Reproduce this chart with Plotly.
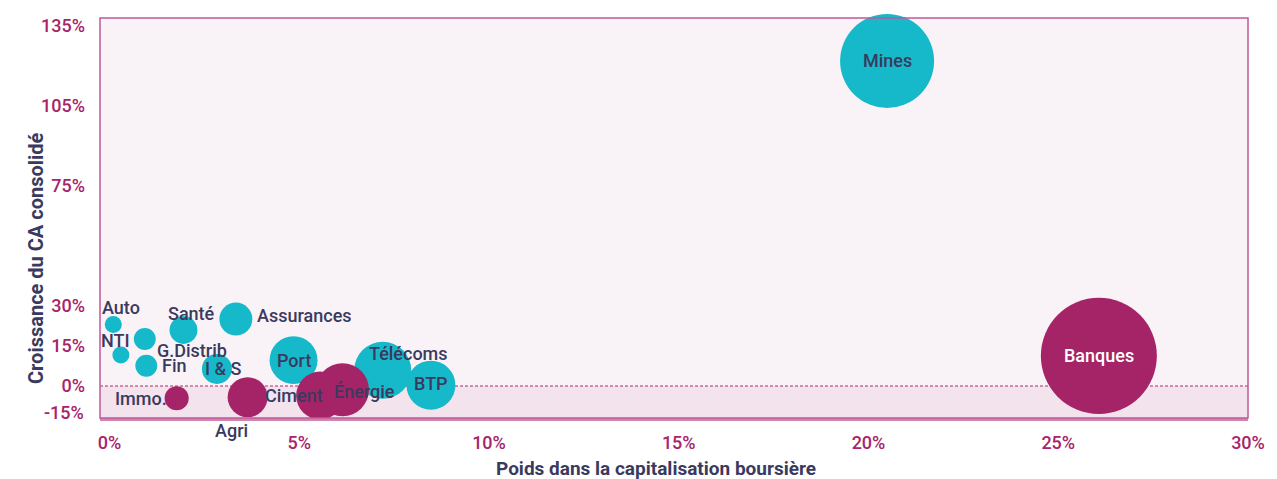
import plotly.graph_objects as go

# Secteurs : poids dans la capitalisation (%) et croissance du CA consolidé (%)
secteurs = ['Auto', 'NTI', 'G.Distrib', 'Fin', 'Santé', 'Immo.', 'I & S', 'Assurances',
            'Agri', 'Port', 'Ciment', 'Énergie', 'Télécoms', 'BTP', 'Mines', 'Banques']
poids = [0.10, 0.30, 0.93, 0.97, 1.95, 1.77, 2.83, 3.33,
         3.64, 4.85, 5.55, 6.14, 7.20, 8.47, 20.49, 26.07]
croissance = [23.1, 11.6, 17.6, 7.6, 21.0, -4.6, 6.4, 25.1,
              -4.2, 9.7, -3.6, -1.4, 5.9, 0.3, 121.9, 11.3]
taille_bulle = [2.9, 2.9, 4.8, 4.8, 7.8, 5.8, 9.0, 10.9,
                16.0, 23.0, 23.0, 28.1, 32.5, 24.0, 88.4, 134.6]
groupe = ['A', 'A', 'A', 'A', 'A', 'B', 'A', 'A',
          'B', 'A', 'B', 'B', 'A', 'A', 'A', 'B']

x_ticks = [0, 5, 10, 15, 20, 25, 30]
y_ticks = [0, 15, 30, 75, 105, 135]
X_RANGE = [-0.25, 30]
Y_RANGE = [-12, 138]

CYAN = '#16b9c9'
MAGENTA = '#a52468'
NAVY = '#3a3a5e'
TICK = '#a8236b'
FONT = 'Roboto, "Open Sans", sans-serif'

# decalage des etiquettes (px) par rapport au centre des bulles
label_dx = [8, -5, 47, 28, 8, -36, 7, 69, -16, 0, -26, 22, 26, 0, 0, 0]
label_dy = [17, 15, -11, 0, 17, 0, 0, 4, -33, 0, 0, -2, 17, 2, 0, 0]

fig = go.Figure()

for g, col in [('A', CYAN), ('B', MAGENTA)]:
    idx = [i for i, v in enumerate(groupe) if v == g]
    fig.add_trace(go.Scatter(
        x=[poids[i] for i in idx],
        y=[croissance[i] for i in idx],
        text=[secteurs[i] for i in idx],
        mode='markers',
        marker=dict(size=[taille_bulle[i] for i in idx], sizemode='area', sizeref=0.02,
                    color=col, opacity=1, line=dict(width=0)),
        hovertemplate='%{text}<br>%{x:.2f}% / %{y:.1f}%<extra></extra>',
        cliponaxis=False,
        showlegend=False,
    ))

annotations = []
for i, name in enumerate(secteurs):
    annotations.append(dict(
        x=poids[i], y=croissance[i], text=name, showarrow=False,
        xshift=label_dx[i], yshift=label_dy[i],
        font=dict(family=FONT, size=18, weight=500,
                  color='#ffffff' if name == 'Banques' else NAVY),
    ))

# libelle -15% en bas de l'axe
annotations.append(dict(xref='paper', yref='paper', x=0, y=0, xanchor='right', yanchor='middle',
                        xshift=-14, yshift=6, text='-15%', showarrow=False,
                        font=dict(family=FONT, size=18, weight=500, color=TICK)))
annotations.append(dict(xref='paper', yref='paper', x=0, y=0.4, xshift=-78, textangle=-90,
                        text='Croissance du CA consolidé', showarrow=False,
                        font=dict(family=FONT, size=20, weight=700, color=NAVY)))
annotations.append(dict(xref='paper', yref='paper', x=0.484, y=-0.125, yanchor='middle',
                        text='Poids dans la capitalisation boursière', showarrow=False,
                        font=dict(family=FONT, size=19, weight=700, color=NAVY)))

shapes = [
    dict(type='rect', xref='paper', yref='y', x0=0, x1=1, y0=Y_RANGE[0], y1=0,
         fillcolor='#f3e3ed', line=dict(width=0), layer='below'),
    dict(type='line', xref='paper', yref='y', x0=0, x1=1, y0=0, y1=0,
         line=dict(color='#ad2a6c', width=1, dash='3px,2px'), layer='below'),
    dict(type='rect', xref='paper', yref='paper', x0=0, x1=1, y0=0, y1=1,
         line=dict(color='#c0589a', width=1.5)),
]

fig.update_layout(
    width=1277, height=479,
    margin=dict(l=100, r=20, t=18, b=61),
    paper_bgcolor='#ffffff',
    plot_bgcolor='#f9f3f7',
    font=dict(family=FONT, size=16, color=NAVY),
    annotations=annotations,
    shapes=shapes,
    showlegend=False,
)
fig.update_xaxes(range=X_RANGE, tickvals=x_ticks, ticktext=[f'{v}%' for v in x_ticks],
                 showgrid=False, zeroline=False, showline=True, linecolor='#cf86ae', linewidth=3,
                 ticks='', ticklabelstandoff=6,
                 tickfont=dict(family=FONT, size=18, weight=500, color=TICK))
fig.update_yaxes(range=Y_RANGE, tickvals=y_ticks, ticktext=[f'{v}%' for v in y_ticks],
                 showgrid=False, zeroline=False, showline=False,
                 ticks='', ticklabelstandoff=14,
                 tickfont=dict(family=FONT, size=18, weight=500, color=TICK))

fig.write_html('out.html', config={'displayModeBar': False},
               post_script="document.body.style.margin='0';document.body.style.overflow='hidden';")
